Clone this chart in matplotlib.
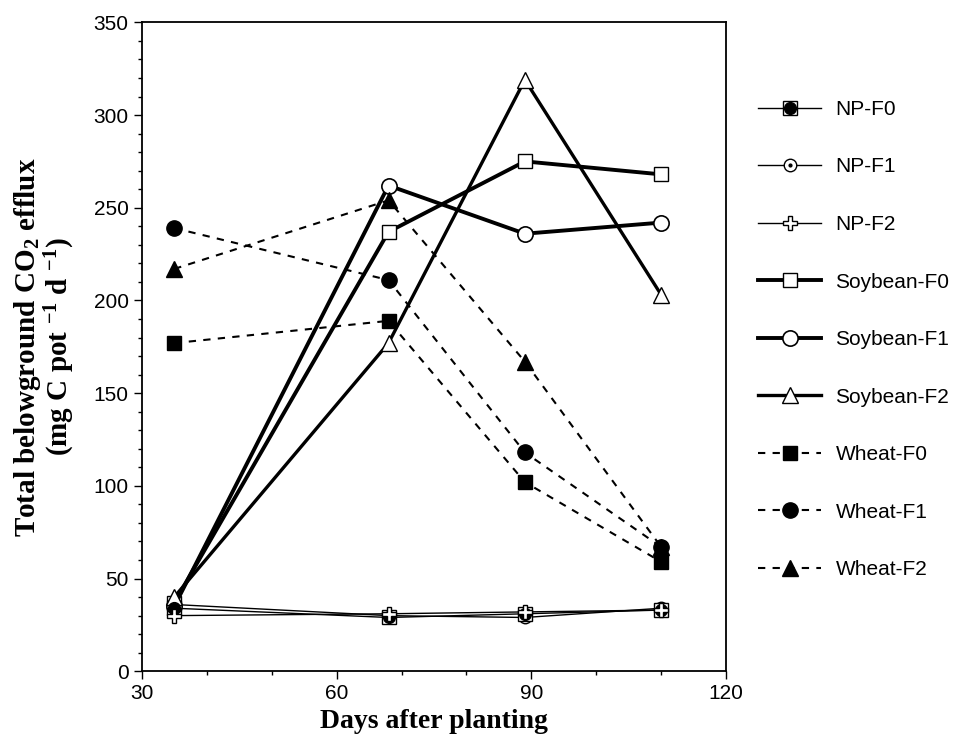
import matplotlib
matplotlib.use("Agg")
import matplotlib.pyplot as plt
from matplotlib.ticker import MultipleLocator
from matplotlib.lines import Line2D
from matplotlib.legend_handler import HandlerTuple

plt.rcParams["font.family"] = ["Liberation Sans", "DejaVu Sans"]
plt.rcParams["mathtext.fontset"] = "custom"
plt.rcParams["mathtext.rm"] = "Liberation Serif:bold"
plt.rcParams["mathtext.bf"] = "Liberation Serif:bold"
plt.rcParams["mathtext.default"] = "bf"

days = [35, 68, 89, 110]

np_f0 = [34, 29, 31, 33]
np_f1 = [36, 30, 29, 34]
np_f2 = [30, 31, 32, 33]
soy_f0 = [37, 237, 275, 268]
soy_f1 = [35, 262, 236, 242]
soy_f2 = [40, 177, 319, 203]
wheat_f0 = [177, 189, 102, 59]
wheat_f1 = [239, 211, 118, 67]
wheat_f2 = [217, 254, 167, 67]

fig = plt.figure(figsize=(9.58, 7.45), dpi=100)
ax = fig.add_axes([0.148, 0.099, 0.610, 0.871])

# no-plant lines, thin
ax.plot(days, np_f1, "-", color="black", lw=1, marker="o", ms=9, mfc="white",
        mec="black", mew=1, zorder=3)
ax.plot(days, np_f1, " ", marker=".", ms=4, color="black", zorder=4)
ax.plot(days, np_f0, "-", color="black", lw=1, marker="s", ms=10, mfc="white",
        mec="black", mew=1, zorder=3)
ax.plot(days, np_f0, " ", marker="o", ms=8.5, color="black", zorder=4)
ax.plot(days, np_f2, "-", color="black", lw=1, marker="P", ms=10, mfc="white",
        mec="black", mew=1, label="NP-F2", zorder=5)

# soybean lines, thick
ax.plot(days, soy_f0, "-", color="black", lw=2.8, marker="s", ms=10.5, mfc="white",
        mec="black", mew=1, label="Soybean-F0", zorder=3)
ax.plot(days, soy_f1, "-", color="black", lw=2.8, marker="o", ms=11, mfc="white",
        mec="black", mew=1.2, label="Soybean-F1", zorder=3)
ax.plot(days, soy_f2, "-", color="black", lw=2.4, marker="^", ms=11.5, mfc="white",
        mec="black", mew=1, label="Soybean-F2", zorder=3)

# wheat lines, dashed
ax.plot(days, wheat_f0, "--", color="black", lw=1.5, dashes=(3.5, 3.5), marker="s",
        ms=10.5, mfc="black", mec="black", label="Wheat-F0", zorder=3)
ax.plot(days, wheat_f1, "--", color="black", lw=1.5, dashes=(3.5, 3.5), marker="o",
        ms=11, mfc="black", mec="black", label="Wheat-F1", zorder=3)
ax.plot(days, wheat_f2, "--", color="black", lw=1.5, dashes=(3.5, 3.5), marker="^",
        ms=11.5, mfc="black", mec="black", label="Wheat-F2", zorder=3)

ax.set_xlim(30, 120)
ax.set_ylim(0, 350)
ax.xaxis.set_major_locator(MultipleLocator(30))
ax.xaxis.set_minor_locator(MultipleLocator(10))
ax.yaxis.set_major_locator(MultipleLocator(50))
ax.yaxis.set_minor_locator(MultipleLocator(10))
ax.tick_params(which="major", direction="out", length=6, width=1, labelsize=15)
ax.tick_params(which="minor", direction="out", length=3, width=1)
for s in ax.spines.values():
    s.set_linewidth(1.3)

ax.set_xlabel("Days after planting", family="Liberation Serif", fontweight="bold",
              fontsize=20, labelpad=4)
ax.set_ylabel("Total belowground CO$_2$ efflux\n(mg C pot $^{-1}$ d $^{-1}$)",
              family="Liberation Serif", fontweight="bold", fontsize=21,
              linespacing=1.0, labelpad=12)

# legend: proxy handles so NP markers show the combined symbol
h_np0 = (Line2D([], [], color="black", lw=1, marker="s", ms=10, mfc="white", mec="black"),
         Line2D([], [], ls="", marker="o", ms=8.5, color="black"))
h_np1 = (Line2D([], [], color="black", lw=1, marker="o", ms=9, mfc="white", mec="black"),
         Line2D([], [], ls="", marker=".", ms=4, color="black"))
handles, labels = ax.get_legend_handles_labels()
lab_map = dict(zip(labels, handles))
order = ["NP-F0", "NP-F1", "NP-F2", "Soybean-F0", "Soybean-F1", "Soybean-F2",
         "Wheat-F0", "Wheat-F1", "Wheat-F2"]
hs = [h_np0, h_np1] + [lab_map[k] for k in order[2:]]
fig.legend(hs, order, loc="upper left", bbox_to_anchor=(0.772, 0.891),
           frameon=False, fontsize=15, handlelength=3.0, handletextpad=0.7,
           labelspacing=1.85, handler_map={tuple: HandlerTuple(ndivide=1)})

fig.savefig("out.png", dpi=100)
